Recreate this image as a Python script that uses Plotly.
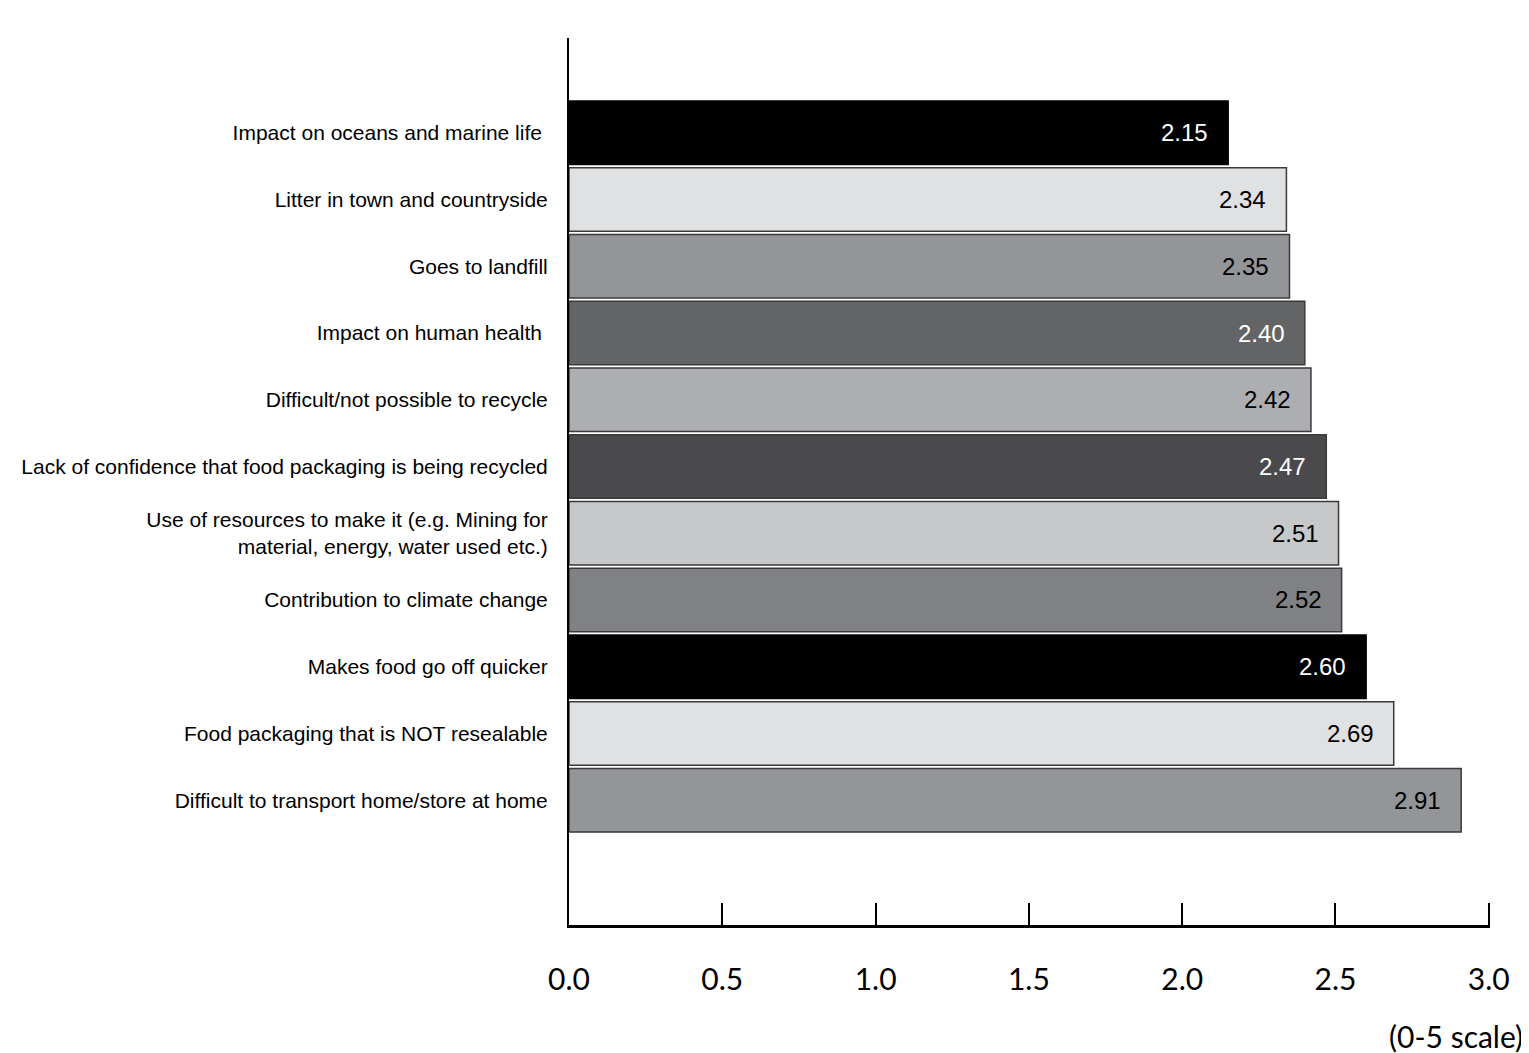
import plotly.graph_objects as go

categories = [
    "Impact on oceans and marine life ",
    "Litter in town and countryside",
    "Goes to landfill",
    "Impact on human health ",
    "Difficult/not possible to recycle",
    "Lack of confidence that food packaging is being recycled",
    "Use of resources to make it (e.g. Mining for<br>material, energy, water used etc.)",
    "Contribution to climate change",
    "Makes food go off quicker",
    "Food packaging that is NOT resealable",
    "Difficult to transport home/store at home",
]
values = [2.15, 2.34, 2.35, 2.40, 2.42, 2.47, 2.51, 2.52, 2.60, 2.69, 2.91]
bar_colors = ["#000000", "#e0e1e3", "#939598", "#636466", "#adaeb1", "#4a4a4c",
              "#c7c8ca", "#808184", "#000000", "#e0e1e3", "#939598"]
label_colors = ["white", "black", "black", "white", "black", "white",
                "black", "black", "white", "black", "black"]
x_ticks = [0.0, 0.5, 1.0, 1.5, 2.0, 2.5, 3.0]
x_ticktext = ["0.0", "0.5", "1.0", "1.5", "2.0", "2.5", "3.0"]

line_colors = ["#000000" if c == "#000000" else "#3a3a3a" for c in bar_colors]

fig = go.Figure()
fig.add_trace(go.Bar(
    x=values, y=categories, orientation="h",
    marker=dict(color=bar_colors, line=dict(color=line_colors, width=1.5)),
    hoverinfo="skip",
))

for v, c, tc in zip(values, categories, label_colors):
    fig.add_annotation(
        x=v, y=c, xref="x", yref="y", text=f"{v:.2f}", showarrow=False,
        xanchor="right", yanchor="middle", xshift=-18,
        font=dict(family="Liberation Sans, Arial, sans-serif", size=24, color=tc),
    )

fig.add_annotation(
    x=1 + 35 / 921, y=-0.125, xref="paper", yref="paper", text="(0-5 scale)",
    showarrow=False, xanchor="right", yanchor="middle",
    font=dict(family="Lato, sans-serif", size=30, color="black"),
)

fig.update_layout(
    width=1521, height=1045,
    margin=dict(l=561, r=39, t=30, b=128),
    paper_bgcolor="white", plot_bgcolor="white",
    showlegend=False, bargap=0.05,
    font=dict(family="Liberation Sans, Arial, sans-serif", color="black"),
)
fig.update_xaxes(
    range=[0, 3.004], tickvals=x_ticks, ticktext=x_ticktext,
    ticks="inside", ticklen=22, tickwidth=2, tickcolor="black",
    showline=True, linewidth=2.5, linecolor="black",
    showgrid=False, zeroline=False,
    tickfont=dict(family="Lato, sans-serif", size=30, color="black"),
    ticklabelstandoff=26,
)
fig.update_yaxes(
    categoryorder="array", categoryarray=categories,
    range=[11.87, -1.42],
    showline=True, linewidth=2, linecolor="black",
    ticks="", showgrid=False, zeroline=False,
    tickfont=dict(family="Liberation Sans, Arial, sans-serif", size=21, color="black"),
    ticklabelstandoff=15,
)

fig.write_html("out.html")
